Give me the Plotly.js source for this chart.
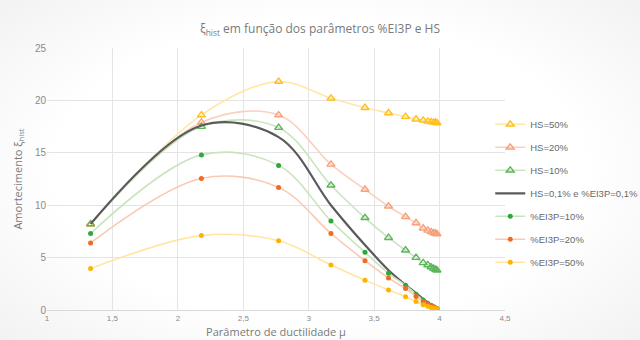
<!DOCTYPE html>
<html>
<head>
<meta charset="utf-8">
<script src="https://cdn.plot.ly/plotly-3.0.1.min.js"></script>
<style>
  html, body { margin: 0; padding: 0; }
  body {
    width: 640px; height: 340px; overflow: hidden;
    background: radial-gradient(ellipse 75% 80% at 50% 50%, #ffffff 55%, #efefef 100%);
  }
  #chart { width: 640px; height: 340px; }
</style>
</head>
<body>
<div id="chart"></div>
<script>
// Ductility parameter μ (shared by all series)
const mu = [1.333, 2.18, 2.77, 3.17, 3.43, 3.61, 3.74, 3.82, 3.875, 3.91, 3.935, 3.955, 3.97, 3.98];

// Hysteretic damping ξhist for each parameter set
const hs50   = [8.2, 18.6, 21.8, 20.2, 19.3, 18.8, 18.45, 18.2, 18.1, 18.0, 17.95, 17.9, 17.9, 17.85];
const hs20   = [8.2, 17.9, 18.6, 13.9, 11.5, 9.9, 8.9, 8.3, 7.8, 7.6, 7.45, 7.35, 7.3, 7.25];
const hs10   = [8.2, 17.5, 17.4, 11.9, 8.8, 6.9, 5.7, 5.0, 4.5, 4.3, 4.1, 3.95, 3.85, 3.8];
const base01 = [8.2, 17.6, 16.5, 10.0, 6.2, 3.8, 2.4, 1.6, 1.05, 0.7, 0.5, 0.35, 0.25, 0.2];
const ei10   = [7.3, 14.8, 13.8, 8.5, 5.5, 3.5, 2.35, 1.5, 0.95, 0.65, 0.45, 0.3, 0.2, 0.15];
const ei20   = [6.4, 12.55, 11.7, 7.3, 4.7, 3.05, 2.05, 1.3, 0.8, 0.55, 0.4, 0.28, 0.2, 0.15];
const ei50   = [3.95, 7.1, 6.6, 4.3, 2.85, 1.9, 1.27, 0.8, 0.5, 0.35, 0.25, 0.17, 0.12, 0.1];

const seriesNames = ['HS=50%', 'HS=20%', 'HS=10%', 'HS=0,1% e %EI3P=0,1%', '%EI3P=10%', '%EI3P=20%', '%EI3P=50%'];

const xTickVals = [1, 1.5, 2, 2.5, 3, 3.5, 4, 4.5];
const yTickVals = [0, 5, 10, 15, 20, 25];

function triSeries(name, y, markerColor, lineColor) {
  return {
    x: mu, y: y, name: name, legendgroup: name, type: 'scatter', mode: 'lines+markers',
    line: { color: lineColor, width: 1.6, shape: 'spline', smoothing: 1 },
    marker: { symbol: 'triangle-up-open', size: 7, color: markerColor, line: { width: 1.4, color: markerColor } }
  };
}
function dotSeries(name, y, markerColor, lineColor) {
  return {
    x: mu, y: y, name: name, legendgroup: name, type: 'scatter', mode: 'lines+markers',
    line: { color: lineColor, width: 1.6, shape: 'spline', smoothing: 1 },
    marker: { symbol: 'circle', size: 5, color: markerColor }
  };
}

const traces = [
  triSeries(seriesNames[0], hs50, '#FFBF1F', '#FFE7A6'),
  triSeries(seriesNames[1], hs20, '#F8A07A', '#FAD0BE'),
  triSeries(seriesNames[2], hs10, '#5DB55A', '#CBE5C0'),
  {
    x: mu, y: base01, name: seriesNames[3], legendgroup: seriesNames[3], type: 'scatter', mode: 'lines',
    line: { color: '#5a5a5a', width: 2.2, shape: 'spline', smoothing: 1 }
  },
  dotSeries(seriesNames[4], ei10, '#2FA83A', '#C9E4BD'),
  dotSeries(seriesNames[5], ei20, '#F26A22', '#FAC9B2'),
  dotSeries(seriesNames[6], ei50, '#FFB300', '#FFE6A3')
];

const gray = '#8a8a8a';
const layout = {
  width: 640, height: 340,
  margin: { l: 47, r: 135, t: 48, b: 30, autoexpand: false },
  paper_bgcolor: 'rgba(0,0,0,0)',
  plot_bgcolor: 'rgba(0,0,0,0)',
  separators: ', ',
  font: { family: 'Liberation Sans, Arial, sans-serif', color: gray },
  title: {
    text: 'ξ<sub>hist</sub> em função dos parâmetros %EI3P e HS',
    font: { family: 'Open Sans, sans-serif', size: 12, color: '#7a7a7a' },
    x: 0.5, xref: 'container', y: 0.915, yref: 'container', yanchor: 'middle'
  },
  xaxis: {
    range: [1, 4.5], tickvals: xTickVals, ticks: '',
    tickfont: { size: 8, color: gray },
    showgrid: true, gridcolor: '#e4e4e4', gridwidth: 1,
    showline: true, linecolor: '#d9d9d9', zeroline: false,
    title: { text: 'Parâmetro de ductilidade μ', font: { family: 'Open Sans, sans-serif', size: 11, color: '#7a7a7a' }, standoff: 6 },
    automargin: false
  },
  yaxis: {
    range: [0, 25], tickvals: yTickVals, ticks: '',
    tickfont: { size: 10, color: gray },
    showgrid: true, gridcolor: '#e4e4e4', gridwidth: 1,
    showline: false, zeroline: false,
    title: { text: 'Amortecimento ξ<sub>hist</sub>', font: { family: 'Open Sans, sans-serif', size: 11, color: '#7a7a7a' }, standoff: 10 },
    automargin: false
  },
  showlegend: true,
  legend: {
    xref: 'container', yref: 'container',
    x: 0.766, xanchor: 'left', y: 0.677, yanchor: 'top',
    traceorder: 'grouped', tracegroupgap: 4,
    bgcolor: 'rgba(0,0,0,0)',
    font: { family: 'Liberation Sans, Arial, sans-serif', size: 9.5, color: '#6a6a6a' },
    itemwidth: 30
  },
  hovermode: false
};

Plotly.newPlot('chart', traces, layout, { staticPlot: true, displayModeBar: false });
</script>
</body>
</html>
